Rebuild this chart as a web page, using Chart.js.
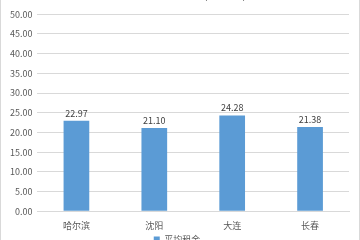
<!DOCTYPE html>
<html>
<head>
<meta charset="utf-8">
<script src="https://cdn.jsdelivr.net/npm/chart.js@4"></script>
<style>
  html, body { margin: 0; padding: 0; background: #fff; }
  #wrap { position: relative; width: 360px; height: 240px; overflow: hidden; box-sizing: border-box; border-left: 1px solid #d9d9d9; border-right: 1px solid #d9d9d9; }
  #box { position: absolute; left: 0; top: -12px; width: 358px; height: 266px; }
</style>
</head>
<body>
<div id="wrap"><div id="box"><canvas id="c"></canvas></div></div>
<script>
const titleText = "东北四城市平均租金（元/平方米/月）";
const seriesName = "平均租金";
const categories = ["哈尔滨", "沈阳", "大连", "长春"];
const values = [22.97, 21.10, 24.28, 21.38];
const yMin = 0, yMax = 50, yStep = 5;

const fontFamily = "'Noto Sans CJK SC', 'Noto Sans', sans-serif";

const dataLabels = {
  id: 'dataLabels',
  afterDatasetsDraw(chart) {
    const ctx = chart.ctx;
    ctx.save();
    ctx.font = "9px " + fontFamily;
    ctx.fillStyle = "#404040";
    ctx.textAlign = "center";
    ctx.textBaseline = "bottom";
    chart.getDatasetMeta(0).data.forEach((bar, i) => {
      ctx.fillText(values[i].toFixed(2), bar.x, bar.y - 3);
    });
    ctx.restore();
  }
};

new Chart(document.getElementById('c'), {
  type: 'bar',
  data: {
    labels: categories,
    datasets: [{
      label: seriesName,
      data: values,
      backgroundColor: '#5b9bd5',
      borderWidth: 0,
      categoryPercentage: 1.0,
      barPercentage: 0.33
    }]
  },
  options: {
    responsive: true,
    maintainAspectRatio: false,
    animation: false,
    layout: { padding: { left: 4, right: 10, top: 0, bottom: 0 } },
    plugins: {
      title: {
        display: true,
        text: titleText,
        color: '#595959',
        font: { size: 11, family: fontFamily, weight: 'normal' },
        padding: { top: 0, bottom: 13 }
      },
      legend: {
        display: true,
        position: 'bottom',
        labels: {
          boxWidth: 6, boxHeight: 6,
          padding: 3,
          color: '#595959',
          font: { size: 9, family: fontFamily }
        }
      },
      tooltip: { enabled: false }
    },
    scales: {
      x: {
        grid: { display: false },
        border: { display: true, color: '#d9d9d9' },
        ticks: { color: '#595959', font: { size: 9, family: fontFamily }, padding: 1 }
      },
      y: {
        min: yMin, max: yMax,
        ticks: {
          stepSize: yStep,
          color: '#595959',
          font: { size: 9, family: fontFamily },
          padding: 5,
          callback: v => Number(v).toFixed(2)
        },
        grid: { color: '#d9d9d9', drawTicks: false },
        border: { display: false }
      }
    }
  },
  plugins: [dataLabels]
});
</script>
</body>
</html>
